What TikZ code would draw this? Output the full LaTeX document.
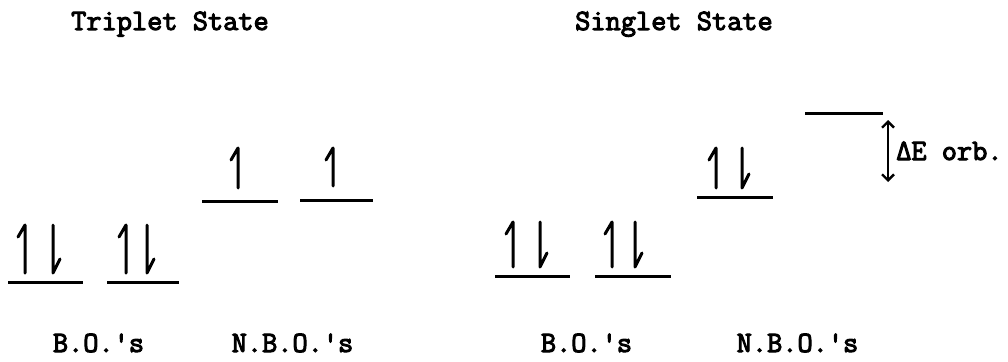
\documentclass[tikz,border=0pt]{standalone}
\usepackage{fontspec}
\setmonofont{Latin Modern Mono}[FakeBold=3.5]
\usetikzlibrary{arrows.meta}
\tikzset{
  lbl/.style={inner sep=0pt, anchor=base, font=\ttfamily\fontsize{29.5}{32}\selectfont},
  level/.style={line width=3pt},
  spin/.style={line width=3pt, line cap=round, line join=round},
  pics/spinup/.style={code={\draw[spin] (0,0) -- (0,-#1) -- ++(-7,12);}},
  pics/spindown/.style={code={\draw[spin] (0,-#1) -- (0,0) -- ++(7,-14);}},
  gap/.style={line width=2.4pt, {Straight Barb[length=6pt,width=12pt]}-{Straight Barb[length=6pt,width=12pt]}}
}
\begin{document}
\begin{tikzpicture}[x=1pt,y=-1pt]
\useasboundingbox (0,0) rectangle (1008,361);
% titles
\node[lbl] (ttitle) at (170,30) {Triplet State};
\node[lbl] (stitle) at (674,30) {Singlet State};
% triplet B.O. levels
\coordinate (tb1w) at (8,282); \coordinate (tb1e) at (83,282);
\coordinate (tb2w) at (107,282); \coordinate (tb2e) at (179,282);
\draw[level] (tb1w) -- (tb1e);
\draw[level] (tb2w) -- (tb2e);
\pic at (25,273) {spinup=48};
\pic at (53,273) {spindown=48};
\pic at (126,273) {spinup=48};
\pic at (147,273) {spindown=48};
% triplet N.B.O. levels
\coordinate (tn1w) at (202,201); \coordinate (tn1e) at (278,201);
\coordinate (tn2w) at (300,200); \coordinate (tn2e) at (373,200);
\draw[level] (tn1w) -- (tn1e);
\draw[level] (tn2w) -- (tn2e);
\pic at (238,188) {spinup=40};
\pic at (333,186) {spinup=38};
% singlet B.O. levels
\coordinate (sb1w) at (495,276); \coordinate (sb1e) at (570,276);
\coordinate (sb2w) at (595,276); \coordinate (sb2e) at (671,276);
\draw[level] (sb1w) -- (sb1e);
\draw[level] (sb2w) -- (sb2e);
\pic at (513,267) {spinup=45};
\pic at (540,267) {spindown=45};
\pic at (612,267) {spinup=45};
\pic at (635,267) {spindown=45};
% singlet N.B.O. levels
\coordinate (sn1w) at (697,197); \coordinate (sn1e) at (773,197);
\draw[level] (sn1w) -- (sn1e);
\pic at (716,188) {spinup=40};
\pic at (742,188) {spindown=40};
% upper empty level
\coordinate (suw) at (805,113); \coordinate (sue) at (883,113);
\draw[level] (suw) -- (sue);
% energy gap arrow
\coordinate (gtop) at (888,120);
\coordinate (gbot) at (888,182);
\draw[gap] (gtop) -- (gbot);
\node[lbl, anchor=base west] (dE) at (896,160) {ΔE orb.};
% bottom labels
\node[lbl] (tbo) at (98.5,352) {B.O.'s};
\node[lbl] (tnbo) at (292.5,352) {N.B.O.'s};
\node[lbl] (sbo) at (586.5,352) {B.O.'s};
\node[lbl] (snbo) at (797.5,352) {N.B.O.'s};
\end{tikzpicture}
\end{document}
